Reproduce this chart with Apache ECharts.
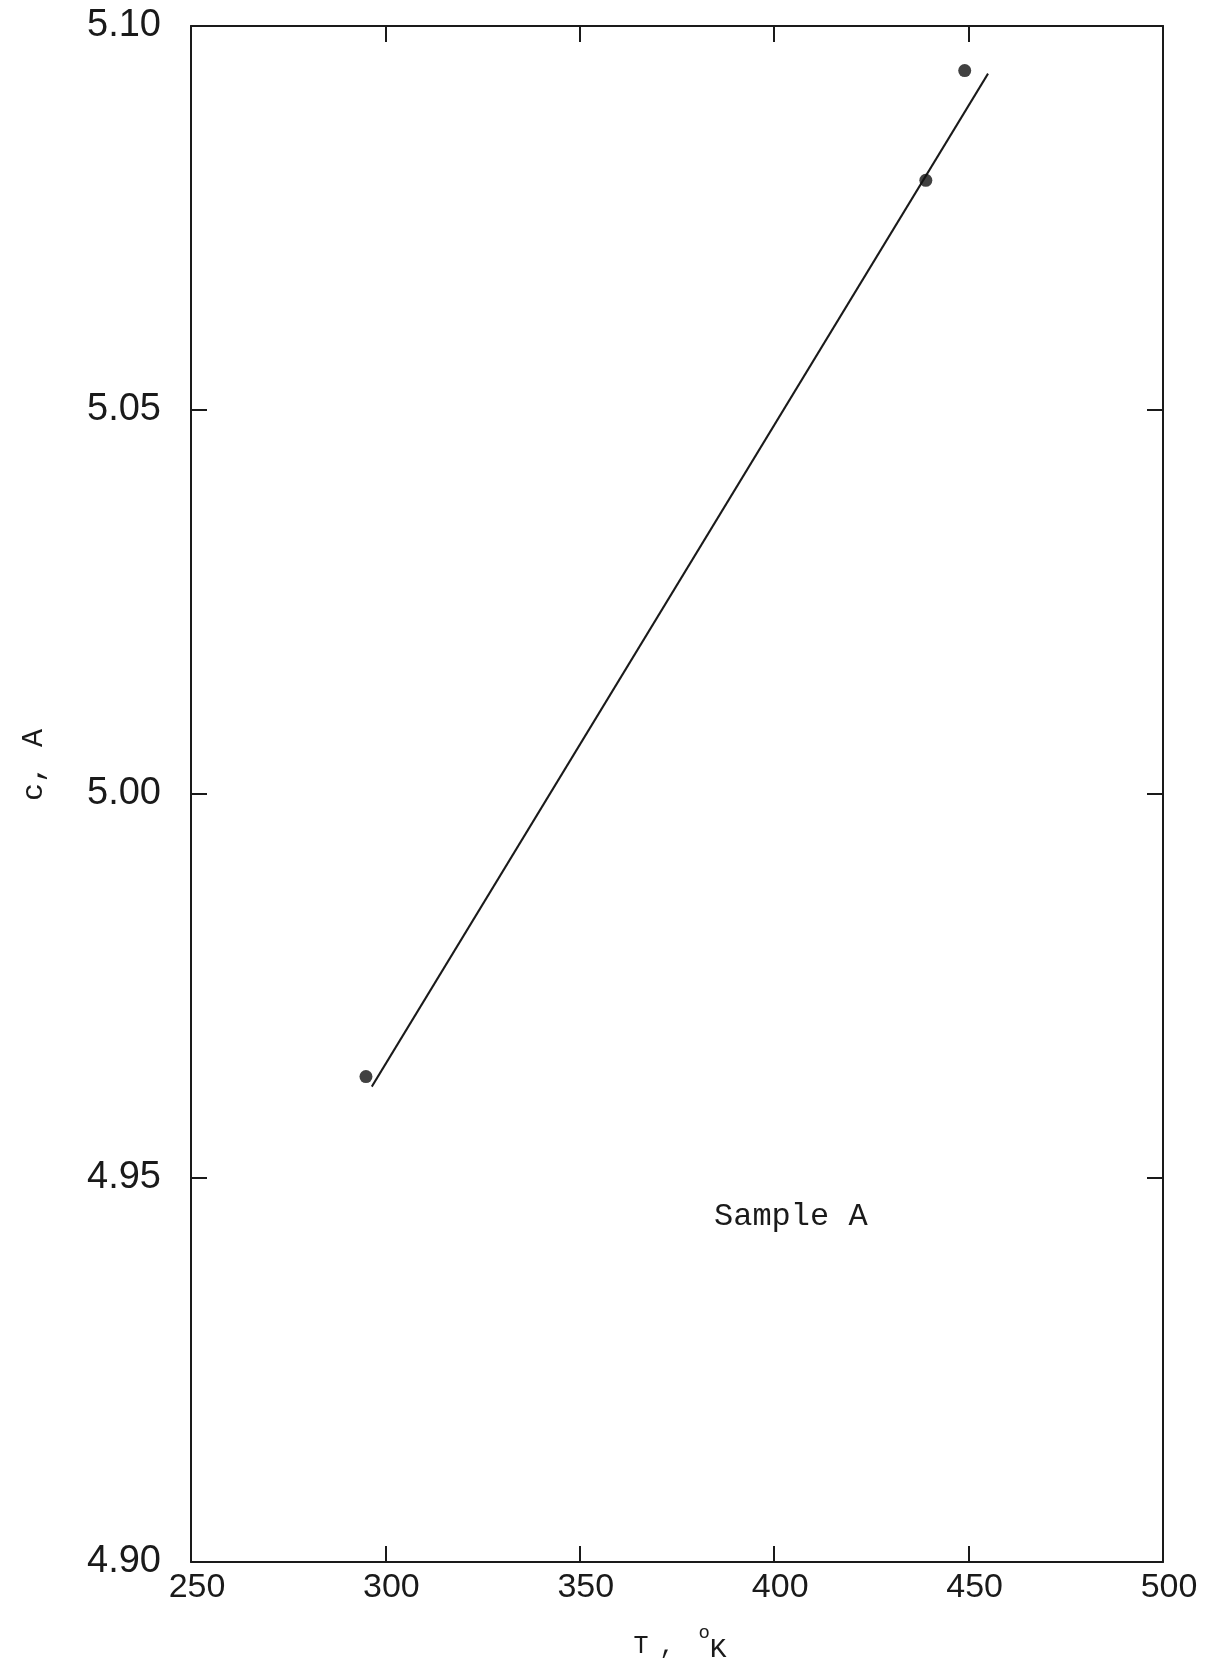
<!DOCTYPE html>
<html>
<head>
<meta charset="utf-8">
<script src="https://cdn.jsdelivr.net/npm/echarts@6/dist/echarts.min.js"></script>
<style>
html,body{margin:0;padding:0;background:#fff;}
#chart{width:1206px;height:1664px;}
</style>
</head>
<body>
<div id="chart"></div>
<script>
// Data
const pointT = [295, 439, 449];
const pointC = [4.9632, 5.0799, 5.0942];
const fitT = [296.5, 455];
const fitC = [4.9619, 5.0938];
const xTicks = [250, 300, 350, 400, 450, 500];
const yTicks = [4.90, 4.95, 5.00, 5.05, 5.10];
const annotation = 'Sample A';

const ink = '#1a1a1a';
const chart = echarts.init(document.getElementById('chart'));

const axisCommonX = {
  type: 'value', min: 250, max: 500, interval: 50,
  axisLine: { show: true, onZero: false, lineStyle: { color: ink, width: 2 } },
  axisTick: { show: true, inside: true, length: 16, lineStyle: { color: ink, width: 2 } },
  splitLine: { show: false }
};
const axisCommonY = {
  type: 'value', min: 4.90, max: 5.10, interval: 0.05,
  axisLine: { show: true, onZero: false, lineStyle: { color: ink, width: 2 } },
  axisTick: { show: true, inside: true, length: 16, lineStyle: { color: ink, width: 2 } },
  splitLine: { show: false }
};

chart.setOption({
  backgroundColor: '#ffffff',
  animation: false,
  grid: { left: 191, top: 26, width: 972, height: 1536, containLabel: false, outerBoundsMode: 'none' },
  xAxis: [
    Object.assign({}, axisCommonX, {
      position: 'bottom',
      name: '{t|T}{c|,}{s|o}{k|K}',
      nameLocation: 'middle',
      nameGap: 61,
      nameTextStyle: {
        lineHeight: 46,
        padding: [0, 0, 0, 6],
        rich: {
          t: { fontFamily: 'Liberation Mono', fontSize: 25, color: ink, lineHeight: 46, verticalAlign: 'middle' },
          c: { fontFamily: 'Liberation Mono', fontSize: 25, color: ink, lineHeight: 46, verticalAlign: 'middle', padding: [0, 0, 0, 11] },
          s: { fontFamily: 'Liberation Mono', fontSize: 19, color: ink, verticalAlign: 'top', padding: [0, 0, 0, 24] },
          k: { fontFamily: 'Liberation Mono', fontSize: 28, color: ink, verticalAlign: 'middle', padding: [8, 0, 0, 0] }
        }
      },
      axisLabel: {
        show: true, margin: 9, color: ink, fontSize: 34, fontFamily: 'Liberation Sans',
        padding: [0, 0, 0, 12],
        formatter: v => xTicks.includes(v) ? String(v) : ''
      }
    }),
    Object.assign({}, axisCommonX, {
      position: 'top',
      axisLabel: { show: false }
    })
  ],
  yAxis: [
    Object.assign({}, axisCommonY, {
      position: 'left',
      name: 'c, A',
      nameLocation: 'middle',
      nameGap: 142,
      nameRotate: 90,
      nameTextStyle: { fontFamily: 'Liberation Mono', fontSize: 30, color: ink, padding: [0, 0, 0, 58] },
      axisLabel: {
        show: true, margin: 30, color: ink, fontSize: 38, fontFamily: 'Liberation Sans',
        formatter: v => {
          const t = yTicks.find(y => Math.abs(y - v) < 1e-6);
          return t !== undefined ? t.toFixed(2) : '';
        }
      }
    }),
    Object.assign({}, axisCommonY, {
      position: 'right',
      axisLabel: { show: false }
    })
  ],
  series: [
    {
      type: 'line',
      data: fitT.map((t, i) => [t, fitC[i]]),
      showSymbol: false,
      symbol: 'none',
      lineStyle: { color: ink, width: 2 },
      silent: true,
      z: 2
    },
    {
      type: 'scatter',
      data: pointT.map((t, i) => [t, pointC[i]]),
      symbol: 'circle',
      symbolSize: 13,
      itemStyle: { color: '#111' },
      z: 3
    }
  ],
  graphic: [
    {
      type: 'text',
      left: 714,
      top: 1201,
      style: { text: annotation, fontFamily: 'Liberation Mono', fontSize: 32, fill: ink }
    }
  ]
});
</script>
</body>
</html>
